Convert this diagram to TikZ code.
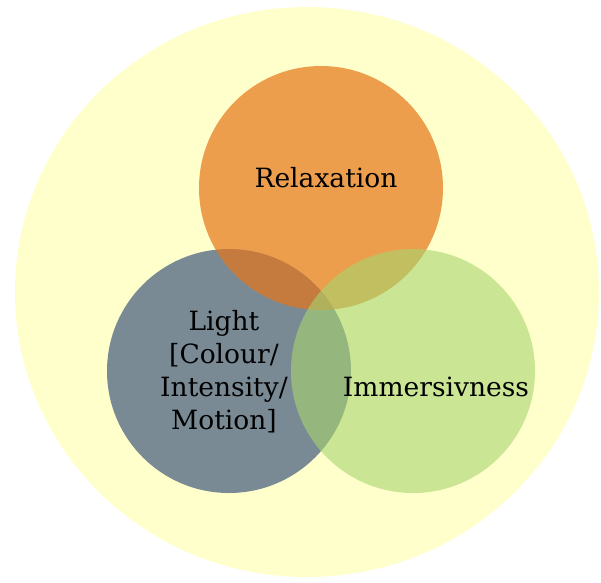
\documentclass[tikz,border=0pt]{standalone}
\usepackage{fontspec}
\setmainfont{DejaVu Serif}
\usetikzlibrary{calc}

\definecolor{paleyellow}{RGB}{255,255,204}
\definecolor{relaxorange}{RGB}{228,118,24}
\definecolor{slateblue}{RGB}{122,138,149}
\definecolor{limegreen}{RGB}{167,213,111}

\begin{document}
\begin{tikzpicture}[x=1pt,y=-1pt,
    txt/.style={text=black, font=\fontsize{26.5}{33}\selectfont, inner sep=0pt}]
        \def\r{122pt}  % radius of the three small circles

        \useasboundingbox (0,0) rectangle (601,582);

        % Centres of the circles
        \coordinate (O) at (307,292);
        \coordinate (R) at (321,188);
        \coordinate (L) at (229,371);
        \coordinate (I) at (413,371);

        % Draw the big background circle
        \fill[paleyellow] (O) ellipse (292pt and 285pt);

        % Draw the three overlapping circles
        \fill[slateblue] (L) circle(\r);
        \fill[relaxorange, fill opacity=0.7] (R) circle(\r);
        \fill[limegreen, fill opacity=0.6] (I) circle(\r);

        % Labels
        \node[txt, anchor=base] (relax) at (326,187) {Relaxation};
        \node[txt, anchor=base] (immers) at (436,396) {Immersivness};
        \node[txt, align=center] (light) at (224,372) {Light\\{[}Colour/\\Intensity/\\Motion{]}};

      \end{tikzpicture}
\end{document}
